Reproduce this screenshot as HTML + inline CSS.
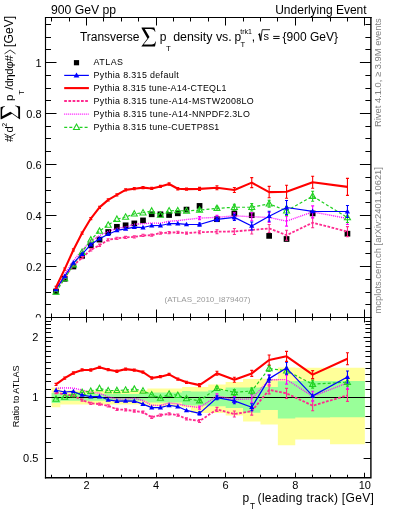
<!DOCTYPE html><html><head><meta charset="utf-8"><style>html,body{margin:0;padding:0;background:#fff;width:393px;height:512px;overflow:hidden}svg{display:block;will-change:transform;font-family:"Liberation Sans",sans-serif}</style></head><body>
<svg width="393" height="512" viewBox="0 0 393 512" font-family="Liberation Sans, sans-serif">
<rect width="393" height="512" fill="#fff"/>
<text x="50.9" y="14.3" font-size="12" textLength="65.2" lengthAdjust="spacingAndGlyphs">900 GeV pp</text>
<text x="366.6" y="14.3" font-size="12" text-anchor="end">Underlying Event</text>
<text x="41.6" y="271.00" font-size="11" text-anchor="end">0.2</text>
<text x="41.6" y="220.00" font-size="11" text-anchor="end">0.4</text>
<text x="41.6" y="169.00" font-size="11" text-anchor="end">0.6</text>
<text x="41.6" y="118.00" font-size="11" text-anchor="end">0.8</text>
<text x="41.6" y="67.00" font-size="11" text-anchor="end">1</text>
<text x="41.4" y="322.10" font-size="11" text-anchor="end">0</text>
<defs><clipPath id="cu"><rect x="45.5" y="17.5" width="325.4" height="300.0"/></clipPath><clipPath id="cr"><rect x="45.5" y="317.5" width="325.4" height="160.25"/></clipPath></defs>
<text x="164.5" y="301.7" font-size="8" fill="#999" textLength="86" lengthAdjust="spacingAndGlyphs">(ATLAS_2010_I879407)</text>
<g clip-path="url(#cu)">
<rect x="53.15" y="288.65" width="5.7" height="5.7" fill="#000"/>
<rect x="61.85" y="275.95" width="5.7" height="5.7" fill="#000"/>
<rect x="70.55" y="263.65" width="5.7" height="5.7" fill="#000"/>
<rect x="79.25" y="253.05" width="5.7" height="5.7" fill="#000"/>
<rect x="87.95" y="242.45" width="5.7" height="5.7" fill="#000"/>
<rect x="96.65" y="236.75" width="5.7" height="5.7" fill="#000"/>
<rect x="105.35" y="229.15" width="5.7" height="5.7" fill="#000"/>
<rect x="114.05" y="223.95" width="5.7" height="5.7" fill="#000"/>
<rect x="122.75" y="222.45" width="5.7" height="5.7" fill="#000"/>
<rect x="131.45" y="220.55" width="5.7" height="5.7" fill="#000"/>
<rect x="140.15" y="217.55" width="5.7" height="5.7" fill="#000"/>
<rect x="148.85" y="211.45" width="5.7" height="5.7" fill="#000"/>
<rect x="157.55" y="211.45" width="5.7" height="5.7" fill="#000"/>
<rect x="166.25" y="212.15" width="5.7" height="5.7" fill="#000"/>
<rect x="174.95" y="210.45" width="5.7" height="5.7" fill="#000"/>
<rect x="183.65" y="206.75" width="5.7" height="5.7" fill="#000"/>
<rect x="196.70" y="203.05" width="5.7" height="5.7" fill="#000"/>
<rect x="214.10" y="216.35" width="5.7" height="5.7" fill="#000"/>
<rect x="231.50" y="210.65" width="5.7" height="5.7" fill="#000"/>
<rect x="248.90" y="212.35" width="5.7" height="5.7" fill="#000"/>
<rect x="266.30" y="233.05" width="5.7" height="5.7" fill="#000"/>
<rect x="283.70" y="236.15" width="5.7" height="5.7" fill="#000"/>
<rect x="309.80" y="210.55" width="5.7" height="5.7" fill="#000"/>
<rect x="344.60" y="230.85" width="5.7" height="5.7" fill="#000"/>
<polyline points="56.00,289.96 64.70,277.44 73.40,265.38 82.10,257.65 90.80,249.95 99.50,245.24 108.20,239.78 116.90,238.32 125.60,237.43 134.30,236.89 143.00,235.41 151.70,235.21 160.40,233.06 169.10,232.62 177.80,232.31 186.50,233.12 199.55,232.26 216.95,231.71 234.35,231.45 251.75,229.97 269.15,228.44 286.55,235.21 312.65,222.70 347.45,231.61" fill="none" stroke="#ff2a90" stroke-width="1.8" stroke-dasharray="2.7,1.5" stroke-linejoin="round"/>
<path d="M56.00,288.86V291.06M54.50,288.86h3M54.50,291.06h3" stroke="#ff2a90" stroke-width="1.1" fill="none"/>
<path d="M64.70,276.34V278.54M63.20,276.34h3M63.20,278.54h3" stroke="#ff2a90" stroke-width="1.1" fill="none"/>
<path d="M73.40,264.28V266.48M71.90,264.28h3M71.90,266.48h3" stroke="#ff2a90" stroke-width="1.1" fill="none"/>
<path d="M82.10,256.55V258.75M80.60,256.55h3M80.60,258.75h3" stroke="#ff2a90" stroke-width="1.1" fill="none"/>
<path d="M90.80,248.85V251.05M89.30,248.85h3M89.30,251.05h3" stroke="#ff2a90" stroke-width="1.1" fill="none"/>
<path d="M99.50,244.14V246.34M98.00,244.14h3M98.00,246.34h3" stroke="#ff2a90" stroke-width="1.1" fill="none"/>
<path d="M108.20,238.68V240.88M106.70,238.68h3M106.70,240.88h3" stroke="#ff2a90" stroke-width="1.1" fill="none"/>
<path d="M116.90,237.22V239.42M115.40,237.22h3M115.40,239.42h3" stroke="#ff2a90" stroke-width="1.1" fill="none"/>
<path d="M125.60,236.33V238.53M124.10,236.33h3M124.10,238.53h3" stroke="#ff2a90" stroke-width="1.1" fill="none"/>
<path d="M134.30,235.79V237.99M132.80,235.79h3M132.80,237.99h3" stroke="#ff2a90" stroke-width="1.1" fill="none"/>
<path d="M143.00,234.31V236.51M141.50,234.31h3M141.50,236.51h3" stroke="#ff2a90" stroke-width="1.1" fill="none"/>
<path d="M151.70,234.11V236.31M150.20,234.11h3M150.20,236.31h3" stroke="#ff2a90" stroke-width="1.1" fill="none"/>
<path d="M160.40,231.96V234.16M158.90,231.96h3M158.90,234.16h3" stroke="#ff2a90" stroke-width="1.1" fill="none"/>
<path d="M169.10,231.52V233.72M167.60,231.52h3M167.60,233.72h3" stroke="#ff2a90" stroke-width="1.1" fill="none"/>
<path d="M177.80,231.21V233.41M176.30,231.21h3M176.30,233.41h3" stroke="#ff2a90" stroke-width="1.1" fill="none"/>
<path d="M186.50,232.02V234.22M185.00,232.02h3M185.00,234.22h3" stroke="#ff2a90" stroke-width="1.1" fill="none"/>
<path d="M199.55,230.76V233.76M198.05,230.76h3M198.05,233.76h3" stroke="#ff2a90" stroke-width="1.1" fill="none"/>
<path d="M216.95,229.71V233.71M215.45,229.71h3M215.45,233.71h3" stroke="#ff2a90" stroke-width="1.1" fill="none"/>
<path d="M234.35,228.45V234.45M232.85,228.45h3M232.85,234.45h3" stroke="#ff2a90" stroke-width="1.1" fill="none"/>
<path d="M251.75,225.97V233.97M250.25,225.97h3M250.25,233.97h3" stroke="#ff2a90" stroke-width="1.1" fill="none"/>
<path d="M269.15,224.44V232.44M267.65,224.44h3M267.65,232.44h3" stroke="#ff2a90" stroke-width="1.1" fill="none"/>
<path d="M286.55,230.21V240.21M285.05,230.21h3M285.05,240.21h3" stroke="#ff2a90" stroke-width="1.1" fill="none"/>
<path d="M312.65,217.70V227.70M311.15,217.70h3M311.15,227.70h3" stroke="#ff2a90" stroke-width="1.1" fill="none"/>
<path d="M347.45,226.61V236.61M345.95,226.61h3M345.95,236.61h3" stroke="#ff2a90" stroke-width="1.1" fill="none"/>
<polyline points="56.00,288.59 64.70,274.27 73.40,260.72 82.10,250.39 90.80,241.02 99.50,235.59 108.20,231.45 116.90,228.36 125.60,226.98 134.30,224.22 143.00,223.69 151.70,223.07 160.40,223.23 169.10,221.23 177.80,220.67 186.50,219.54 199.55,218.09 216.95,217.36 234.35,215.86 251.75,216.70 269.15,217.49 286.55,221.12 312.65,211.91 347.45,218.45" fill="none" stroke="#ff00ff" stroke-width="1.4" stroke-dasharray="1,1" stroke-linejoin="round"/>
<path d="M199.55,216.59V219.59M198.05,216.59h3M198.05,219.59h3" stroke="#ff00ff" stroke-width="1.1" fill="none"/>
<path d="M216.95,215.36V219.36M215.45,215.36h3M215.45,219.36h3" stroke="#ff00ff" stroke-width="1.1" fill="none"/>
<path d="M234.35,212.86V218.86M232.85,212.86h3M232.85,218.86h3" stroke="#ff00ff" stroke-width="1.1" fill="none"/>
<path d="M251.75,212.70V220.70M250.25,212.70h3M250.25,220.70h3" stroke="#ff00ff" stroke-width="1.1" fill="none"/>
<path d="M269.15,212.49V222.49M267.65,212.49h3M267.65,222.49h3" stroke="#ff00ff" stroke-width="1.1" fill="none"/>
<path d="M286.55,216.12V226.12M285.05,216.12h3M285.05,226.12h3" stroke="#ff00ff" stroke-width="1.1" fill="none"/>
<path d="M312.65,205.91V217.91M311.15,205.91h3M311.15,217.91h3" stroke="#ff00ff" stroke-width="1.1" fill="none"/>
<path d="M347.45,212.45V224.45M345.95,212.45h3M345.95,224.45h3" stroke="#ff00ff" stroke-width="1.1" fill="none"/>
<polyline points="56.00,291.94 64.70,278.59 73.40,264.72 82.10,252.14 90.80,239.83 99.50,231.06 108.20,224.98 116.90,219.15 125.60,217.01 134.30,213.85 143.00,212.75 151.70,210.95 160.40,215.01 169.10,210.77 177.80,210.60 186.50,210.95 199.55,210.07 216.95,208.31 234.35,207.27 251.75,207.23 269.15,203.77 286.55,210.86 312.65,196.20 347.45,217.57" fill="none" stroke="#20d020" stroke-width="1.2" stroke-dasharray="3,2.1" stroke-linejoin="round"/>
<path d="M199.55,208.57V211.57M198.05,208.57h3M198.05,211.57h3" stroke="#20d020" stroke-width="1.1" fill="none"/>
<path d="M216.95,206.31V210.31M215.45,206.31h3M215.45,210.31h3" stroke="#20d020" stroke-width="1.1" fill="none"/>
<path d="M234.35,204.27V210.27M232.85,204.27h3M232.85,210.27h3" stroke="#20d020" stroke-width="1.1" fill="none"/>
<path d="M251.75,203.43V211.03M250.25,203.43h3M250.25,211.03h3" stroke="#20d020" stroke-width="1.1" fill="none"/>
<path d="M269.15,200.27V207.27M267.65,200.27h3M267.65,207.27h3" stroke="#20d020" stroke-width="1.1" fill="none"/>
<path d="M286.55,206.36V215.36M285.05,206.36h3M285.05,215.36h3" stroke="#20d020" stroke-width="1.1" fill="none"/>
<path d="M312.65,191.20V201.20M311.15,191.20h3M311.15,201.20h3" stroke="#20d020" stroke-width="1.1" fill="none"/>
<path d="M347.45,212.57V222.57M345.95,212.57h3M345.95,222.57h3" stroke="#20d020" stroke-width="1.1" fill="none"/>
<path d="M56.00,288.74L59.00,294.14L53.00,294.14Z" fill="none" stroke="#20d020" stroke-width="1.1"/>
<path d="M64.70,275.39L67.70,280.79L61.70,280.79Z" fill="none" stroke="#20d020" stroke-width="1.1"/>
<path d="M73.40,261.52L76.40,266.92L70.40,266.92Z" fill="none" stroke="#20d020" stroke-width="1.1"/>
<path d="M82.10,248.94L85.10,254.34L79.10,254.34Z" fill="none" stroke="#20d020" stroke-width="1.1"/>
<path d="M90.80,236.63L93.80,242.03L87.80,242.03Z" fill="none" stroke="#20d020" stroke-width="1.1"/>
<path d="M99.50,227.86L102.50,233.26L96.50,233.26Z" fill="none" stroke="#20d020" stroke-width="1.1"/>
<path d="M108.20,221.78L111.20,227.18L105.20,227.18Z" fill="none" stroke="#20d020" stroke-width="1.1"/>
<path d="M116.90,215.95L119.90,221.35L113.90,221.35Z" fill="none" stroke="#20d020" stroke-width="1.1"/>
<path d="M125.60,213.81L128.60,219.21L122.60,219.21Z" fill="none" stroke="#20d020" stroke-width="1.1"/>
<path d="M134.30,210.65L137.30,216.05L131.30,216.05Z" fill="none" stroke="#20d020" stroke-width="1.1"/>
<path d="M143.00,209.55L146.00,214.95L140.00,214.95Z" fill="none" stroke="#20d020" stroke-width="1.1"/>
<path d="M151.70,207.75L154.70,213.15L148.70,213.15Z" fill="none" stroke="#20d020" stroke-width="1.1"/>
<path d="M160.40,211.81L163.40,217.21L157.40,217.21Z" fill="none" stroke="#20d020" stroke-width="1.1"/>
<path d="M169.10,207.57L172.10,212.97L166.10,212.97Z" fill="none" stroke="#20d020" stroke-width="1.1"/>
<path d="M177.80,207.40L180.80,212.80L174.80,212.80Z" fill="none" stroke="#20d020" stroke-width="1.1"/>
<path d="M186.50,207.75L189.50,213.15L183.50,213.15Z" fill="none" stroke="#20d020" stroke-width="1.1"/>
<path d="M199.55,206.87L202.55,212.27L196.55,212.27Z" fill="none" stroke="#20d020" stroke-width="1.1"/>
<path d="M216.95,205.11L219.95,210.51L213.95,210.51Z" fill="none" stroke="#20d020" stroke-width="1.1"/>
<path d="M234.35,204.07L237.35,209.47L231.35,209.47Z" fill="none" stroke="#20d020" stroke-width="1.1"/>
<path d="M251.75,204.03L254.75,209.43L248.75,209.43Z" fill="none" stroke="#20d020" stroke-width="1.1"/>
<path d="M269.15,200.57L272.15,205.97L266.15,205.97Z" fill="none" stroke="#20d020" stroke-width="1.1"/>
<path d="M286.55,207.66L289.55,213.06L283.55,213.06Z" fill="none" stroke="#20d020" stroke-width="1.1"/>
<path d="M312.65,193.00L315.65,198.40L309.65,198.40Z" fill="none" stroke="#20d020" stroke-width="1.1"/>
<path d="M347.45,214.37L350.45,219.77L344.45,219.77Z" fill="none" stroke="#20d020" stroke-width="1.1"/>
<polyline points="56.00,289.25 64.70,276.28 73.40,262.84 82.10,254.08 90.80,244.61 99.50,238.72 108.20,234.20 116.90,230.43 125.60,228.85 134.30,227.13 143.00,227.53 151.70,225.54 160.40,225.52 169.10,223.72 177.80,223.54 186.50,224.45 199.55,224.48 216.95,219.42 234.35,217.36 251.75,225.96 269.15,216.20 286.55,207.52 312.65,211.41 347.45,211.50" fill="none" stroke="#0000ff" stroke-width="1.2" stroke-linejoin="round"/>
<path d="M199.55,222.98V225.98M198.05,222.98h3M198.05,225.98h3" stroke="#0000ff" stroke-width="1.1" fill="none"/>
<path d="M216.95,217.42V221.42M215.45,217.42h3M215.45,221.42h3" stroke="#0000ff" stroke-width="1.1" fill="none"/>
<path d="M234.35,214.36V220.36M232.85,214.36h3M232.85,220.36h3" stroke="#0000ff" stroke-width="1.1" fill="none"/>
<path d="M251.75,221.96V229.96M250.25,221.96h3M250.25,229.96h3" stroke="#0000ff" stroke-width="1.1" fill="none"/>
<path d="M269.15,211.20V221.20M267.65,211.20h3M267.65,221.20h3" stroke="#0000ff" stroke-width="1.1" fill="none"/>
<path d="M286.55,200.52V214.52M285.05,200.52h3M285.05,214.52h3" stroke="#0000ff" stroke-width="1.1" fill="none"/>
<path d="M347.45,205.50V217.50M345.95,205.50h3M345.95,217.50h3" stroke="#0000ff" stroke-width="1.1" fill="none"/>
<path d="M56.00,286.45L58.60,291.15L53.40,291.15Z" fill="#0000ff"/>
<path d="M64.70,273.48L67.30,278.18L62.10,278.18Z" fill="#0000ff"/>
<path d="M73.40,260.04L76.00,264.74L70.80,264.74Z" fill="#0000ff"/>
<path d="M82.10,251.28L84.70,255.98L79.50,255.98Z" fill="#0000ff"/>
<path d="M90.80,241.81L93.40,246.51L88.20,246.51Z" fill="#0000ff"/>
<path d="M99.50,235.92L102.10,240.62L96.90,240.62Z" fill="#0000ff"/>
<path d="M108.20,231.40L110.80,236.10L105.60,236.10Z" fill="#0000ff"/>
<path d="M116.90,227.63L119.50,232.33L114.30,232.33Z" fill="#0000ff"/>
<path d="M125.60,226.05L128.20,230.75L123.00,230.75Z" fill="#0000ff"/>
<path d="M134.30,224.33L136.90,229.03L131.70,229.03Z" fill="#0000ff"/>
<path d="M143.00,224.73L145.60,229.43L140.40,229.43Z" fill="#0000ff"/>
<path d="M151.70,222.74L154.30,227.44L149.10,227.44Z" fill="#0000ff"/>
<path d="M160.40,222.72L163.00,227.42L157.80,227.42Z" fill="#0000ff"/>
<path d="M169.10,220.92L171.70,225.62L166.50,225.62Z" fill="#0000ff"/>
<path d="M177.80,220.74L180.40,225.44L175.20,225.44Z" fill="#0000ff"/>
<path d="M186.50,221.65L189.10,226.35L183.90,226.35Z" fill="#0000ff"/>
<path d="M199.55,221.68L202.15,226.38L196.95,226.38Z" fill="#0000ff"/>
<path d="M216.95,216.62L219.55,221.32L214.35,221.32Z" fill="#0000ff"/>
<path d="M234.35,214.56L236.95,219.26L231.75,219.26Z" fill="#0000ff"/>
<path d="M251.75,223.16L254.35,227.86L249.15,227.86Z" fill="#0000ff"/>
<path d="M269.15,213.40L271.75,218.10L266.55,218.10Z" fill="#0000ff"/>
<path d="M286.55,204.72L289.15,209.42L283.95,209.42Z" fill="#0000ff"/>
<path d="M312.65,208.61L315.25,213.31L310.05,213.31Z" fill="#0000ff"/>
<path d="M347.45,208.70L350.05,213.40L344.85,213.40Z" fill="#0000ff"/>
<polyline points="56.00,287.31 64.70,269.15 73.40,249.97 82.10,233.04 90.80,218.54 99.50,207.36 108.20,199.89 116.90,194.93 125.60,189.89 134.30,188.67 143.00,187.64 151.70,188.45 160.40,186.43 169.10,183.99 177.80,188.77 186.50,189.10 199.55,188.85 216.95,187.76 234.35,190.01 251.75,182.65 269.15,192.11 286.55,191.69 312.65,182.25 347.45,186.84" fill="none" stroke="#ff0000" stroke-width="2.1" stroke-linejoin="round"/>
<path d="M56.00,286.21V288.41M54.50,286.21h3M54.50,288.41h3" stroke="#ff0000" stroke-width="1.1" fill="none"/>
<path d="M64.70,268.05V270.25M63.20,268.05h3M63.20,270.25h3" stroke="#ff0000" stroke-width="1.1" fill="none"/>
<path d="M73.40,248.87V251.07M71.90,248.87h3M71.90,251.07h3" stroke="#ff0000" stroke-width="1.1" fill="none"/>
<path d="M82.10,231.94V234.14M80.60,231.94h3M80.60,234.14h3" stroke="#ff0000" stroke-width="1.1" fill="none"/>
<path d="M90.80,217.44V219.64M89.30,217.44h3M89.30,219.64h3" stroke="#ff0000" stroke-width="1.1" fill="none"/>
<path d="M99.50,206.26V208.46M98.00,206.26h3M98.00,208.46h3" stroke="#ff0000" stroke-width="1.1" fill="none"/>
<path d="M108.20,198.79V200.99M106.70,198.79h3M106.70,200.99h3" stroke="#ff0000" stroke-width="1.1" fill="none"/>
<path d="M116.90,193.83V196.03M115.40,193.83h3M115.40,196.03h3" stroke="#ff0000" stroke-width="1.1" fill="none"/>
<path d="M125.60,188.79V190.99M124.10,188.79h3M124.10,190.99h3" stroke="#ff0000" stroke-width="1.1" fill="none"/>
<path d="M134.30,187.57V189.77M132.80,187.57h3M132.80,189.77h3" stroke="#ff0000" stroke-width="1.1" fill="none"/>
<path d="M143.00,186.54V188.74M141.50,186.54h3M141.50,188.74h3" stroke="#ff0000" stroke-width="1.1" fill="none"/>
<path d="M151.70,187.35V189.55M150.20,187.35h3M150.20,189.55h3" stroke="#ff0000" stroke-width="1.1" fill="none"/>
<path d="M160.40,185.33V187.53M158.90,185.33h3M158.90,187.53h3" stroke="#ff0000" stroke-width="1.1" fill="none"/>
<path d="M169.10,182.89V185.09M167.60,182.89h3M167.60,185.09h3" stroke="#ff0000" stroke-width="1.1" fill="none"/>
<path d="M177.80,187.67V189.87M176.30,187.67h3M176.30,189.87h3" stroke="#ff0000" stroke-width="1.1" fill="none"/>
<path d="M186.50,188.00V190.20M185.00,188.00h3M185.00,190.20h3" stroke="#ff0000" stroke-width="1.1" fill="none"/>
<path d="M199.55,187.35V190.35M198.05,187.35h3M198.05,190.35h3" stroke="#ff0000" stroke-width="1.1" fill="none"/>
<path d="M216.95,185.76V189.76M215.45,185.76h3M215.45,189.76h3" stroke="#ff0000" stroke-width="1.1" fill="none"/>
<path d="M234.35,187.51V192.51M232.85,187.51h3M232.85,192.51h3" stroke="#ff0000" stroke-width="1.1" fill="none"/>
<path d="M251.75,177.65V187.65M250.25,177.65h3M250.25,187.65h3" stroke="#ff0000" stroke-width="1.1" fill="none"/>
<path d="M269.15,186.41V197.81M267.65,186.41h3M267.65,197.81h3" stroke="#ff0000" stroke-width="1.1" fill="none"/>
<path d="M286.55,185.19V198.19M285.05,185.19h3M285.05,198.19h3" stroke="#ff0000" stroke-width="1.1" fill="none"/>
<path d="M312.65,176.25V188.25M311.15,176.25h3M311.15,188.25h3" stroke="#ff0000" stroke-width="1.1" fill="none"/>
<path d="M347.45,178.34V195.34M345.95,178.34h3M345.95,195.34h3" stroke="#ff0000" stroke-width="1.1" fill="none"/>
</g>
<path d="M45.5,317.50h11M370.9,317.50h-11M45.5,304.50h5.5M370.9,304.50h-5.5M45.5,292.50h5.5M370.9,292.50h-5.5M45.5,279.50h5.5M370.9,279.50h-5.5M45.5,266.50h11M370.9,266.50h-11M45.5,253.50h5.5M370.9,253.50h-5.5M45.5,241.50h5.5M370.9,241.50h-5.5M45.5,228.50h5.5M370.9,228.50h-5.5M45.5,215.50h11M370.9,215.50h-11M45.5,202.50h5.5M370.9,202.50h-5.5M45.5,190.50h5.5M370.9,190.50h-5.5M45.5,177.50h5.5M370.9,177.50h-5.5M45.5,164.50h11M370.9,164.50h-11M45.5,151.50h5.5M370.9,151.50h-5.5M45.5,138.50h5.5M370.9,138.50h-5.5M45.5,126.50h5.5M370.9,126.50h-5.5M45.5,113.50h11M370.9,113.50h-11M45.5,100.50h5.5M370.9,100.50h-5.5M45.5,88.50h5.5M370.9,88.50h-5.5M45.5,75.50h5.5M370.9,75.50h-5.5M45.5,62.50h11M370.9,62.50h-11M45.5,49.50h5.5M370.9,49.50h-5.5M45.5,37.50h5.5M370.9,37.50h-5.5M45.5,24.50h5.5M370.9,24.50h-5.5M51.50,317.5v-4M51.50,17.5v4M69.50,317.5v-4M69.50,17.5v4M86.50,317.5v-8M86.50,17.5v8M103.50,317.5v-4M103.50,17.5v4M121.50,317.5v-4M121.50,17.5v4M138.50,317.5v-4M138.50,17.5v4M156.50,317.5v-8M156.50,17.5v8M173.50,317.5v-4M173.50,17.5v4M190.50,317.5v-4M190.50,17.5v4M208.50,317.5v-4M208.50,17.5v4M225.50,317.5v-8M225.50,17.5v8M243.50,317.5v-4M243.50,17.5v4M260.50,317.5v-4M260.50,17.5v4M277.50,317.5v-4M277.50,17.5v4M295.50,317.5v-8M295.50,17.5v8M312.50,317.5v-4M312.50,17.5v4M330.50,317.5v-4M330.50,17.5v4M347.50,317.5v-4M347.50,17.5v4M364.50,317.5v-8M364.50,17.5v8" stroke="#000" stroke-width="1" fill="none"/>
<rect x="73.9" y="60.1" width="5.2" height="5.2" fill="#000"/>
<line x1="64.2" y1="75.4" x2="88.9" y2="75.4" stroke="#0000ff" stroke-width="1.2"/>
<path d="M76.5,72.4L79.4,77.5L73.6,77.5Z" fill="#0000ff"/>
<line x1="64.2" y1="88.1" x2="88.9" y2="88.1" stroke="#ff0000" stroke-width="2.1"/>
<line x1="64.2" y1="101.0" x2="88.9" y2="101.0" stroke="#ff2a90" stroke-width="1.8" stroke-dasharray="2.7,1.5"/>
<line x1="64.2" y1="114.1" x2="88.9" y2="114.1" stroke="#ff00ff" stroke-width="1.4" stroke-dasharray="1,1"/>
<line x1="64.2" y1="127.3" x2="88.9" y2="127.3" stroke="#20d020" stroke-width="1.2" stroke-dasharray="3,2.1"/>
<path d="M76.5,124.1L79.5,129.5L73.5,129.5Z" fill="#fff" stroke="#20d020" stroke-width="1.1"/>
<text x="93.6" y="65.0" font-size="8.9" textLength="29.4" lengthAdjust="spacing">ATLAS</text>
<text x="93.6" y="77.9" font-size="8.9" textLength="85.2" lengthAdjust="spacing">Pythia 8.315 default</text>
<text x="93.6" y="90.9" font-size="8.9" textLength="132.8" lengthAdjust="spacing">Pythia 8.315 tune-A14-CTEQL1</text>
<text x="93.6" y="103.9" font-size="8.9" textLength="160.1" lengthAdjust="spacing">Pythia 8.315 tune-A14-MSTW2008LO</text>
<text x="93.6" y="116.9" font-size="8.9" textLength="156.2" lengthAdjust="spacing">Pythia 8.315 tune-A14-NNPDF2.3LO</text>
<text x="93.6" y="129.8" font-size="8.9" textLength="125.7" lengthAdjust="spacing">Pythia 8.315 tune-CUETP8S1</text>
<text x="79.9" y="40.5" font-size="12">Transverse</text>
<path d="M141.6,27.5 L154.3,27.5 Q155.0,29.5 155.4,31.8 L154.9,31.8 Q154.0,29.0 150.5,29.0 L144.8,29.0 L149.5,37.0 L143.6,44.6 L151.5,44.6 Q154.8,44.6 155.5,41.6 L156.0,41.6 L155.0,46.4 L141.3,46.4 L147.4,38.6 L141.6,28.3 Z" fill="#000"/>
<text x="159.8" y="40.5" font-size="12">p</text>
<text x="166.1" y="50.8" font-size="7.8">T</text>
<text x="173.2" y="40.5" font-size="12.4">density vs.</text>
<text x="234.6" y="40.5" font-size="12">p</text>
<text x="240.3" y="34.2" font-size="7">trk1</text>
<text x="240.5" y="46.5" font-size="7.6">T</text>
<text x="251.8" y="40.5" font-size="12">,</text>
<path d="M258.5,34.8 L259.5,34.2 L260.7,40.6" fill="none" stroke="#000" stroke-width="1.5"/><path d="M260.7,40.6 L262.2,29.7 L270,29.7" fill="none" stroke="#000" stroke-width="0.85"/>
<text x="263.6" y="39.8" font-size="11">s</text>
<rect x="273.2" y="35.9" width="6.4" height="0.95" fill="#000"/><rect x="273.2" y="38.0" width="6.4" height="0.95" fill="#000"/>
<text x="282.6" y="40.5" font-size="12">{900 GeV}</text>
<text transform="translate(380.7,127.0) rotate(-90)" font-size="9.3" fill="#808080" textLength="108.8" lengthAdjust="spacingAndGlyphs">Rivet 4.1.0, ≥ 3.9M events</text>
<text transform="translate(380.7,313.4) rotate(-90)" font-size="9.3" fill="#808080" textLength="146.3" lengthAdjust="spacingAndGlyphs">mcplots.cern.ch [arXiv:2401.10621]</text>
<g transform="translate(13.3,142) rotate(-90)">
<text x="0" y="0" font-size="11.5">#</text>
<path d="M8,-8.8 L5.2,-3.2 L8,2" fill="none" stroke="#000" stroke-width="0.8"/>
<text x="9.4" y="0" font-size="11.5">d</text>
<text x="15.2" y="-6.4" font-size="7">2</text>
<path transform="translate(22.5,-12.7) scale(0.95,1.03) translate(-141.3,-27.5)" d="M141.6,27.5 L154.3,27.5 Q155.0,29.5 155.4,31.8 L154.9,31.8 Q154.0,29.0 150.5,29.0 L144.8,29.0 L149.5,37.0 L143.6,44.6 L151.5,44.6 Q154.8,44.6 155.5,41.6 L156.0,41.6 L155.0,46.4 L141.3,46.4 L147.4,38.6 L141.6,28.3 Z" fill="#000"/>
</g>
<g transform="translate(13.3,142) rotate(-90)">
<text x="41" y="0" font-size="11.5">p</text>
<text x="47.3" y="10.6" font-size="7.5">T</text>
<text x="52.3" y="0" font-size="11.5" textLength="34.6" lengthAdjust="spacing">/dηdφ#</text>
<path d="M88.2,-8.8 L92,-3.2 L88.2,2.2" fill="none" stroke="#000" stroke-width="0.8"/>
<text x="95.0" y="0" font-size="12" textLength="31.2" lengthAdjust="spacing">[GeV]</text>
</g>
<rect x="0" y="317.5" width="393" height="194.5" fill="#fff"/>
<g clip-path="url(#cr)">
<path d="M51.65,387.40 L60.35,387.40 L60.35,390.50 L69.05,390.50 L69.05,390.50 L77.75,390.50 L77.75,390.50 L86.45,390.50 L86.45,390.50 L95.15,390.50 L95.15,390.50 L103.85,390.50 L103.85,390.50 L112.55,390.50 L112.55,390.50 L121.25,390.50 L121.25,390.50 L129.95,390.50 L129.95,390.50 L138.65,390.50 L138.65,390.50 L147.35,390.50 L147.35,388.50 L156.05,388.50 L156.05,388.50 L164.75,388.50 L164.75,388.50 L173.45,388.50 L173.45,388.50 L182.15,388.50 L182.15,387.10 L190.85,387.10 L190.85,387.00 L208.25,387.00 L208.25,384.50 L225.65,384.50 L225.65,382.00 L243.05,382.00 L243.05,378.90 L260.45,378.90 L260.45,378.70 L277.85,378.70 L277.85,367.40 L295.25,367.40 L295.25,367.70 L330.05,367.70 L330.05,367.70 L364.85,367.70 L364.85,444.30 L330.05,444.30 L330.05,439.60 L295.25,439.60 L295.25,445.30 L277.85,445.30 L277.85,424.60 L260.45,424.60 L260.45,421.60 L243.05,421.60 L243.05,415.60 L225.65,415.60 L225.65,413.00 L208.25,413.00 L208.25,413.00 L190.85,413.00 L190.85,407.40 L182.15,407.40 L182.15,406.50 L173.45,406.50 L173.45,406.50 L164.75,406.50 L164.75,406.50 L156.05,406.50 L156.05,406.50 L147.35,406.50 L147.35,404.50 L138.65,404.50 L138.65,404.50 L129.95,404.50 L129.95,404.50 L121.25,404.50 L121.25,404.50 L112.55,404.50 L112.55,404.50 L103.85,404.50 L103.85,404.50 L95.15,404.50 L95.15,404.50 L86.45,404.50 L86.45,404.50 L77.75,404.50 L77.75,404.50 L69.05,404.50 L69.05,404.50 L60.35,404.50 L60.35,407.30 L51.65,407.30 Z" fill="#ffff99"/>
<path d="M51.65,392.90 L60.35,392.90 L60.35,394.00 L69.05,394.00 L69.05,394.00 L77.75,394.00 L77.75,394.00 L86.45,394.00 L86.45,394.00 L95.15,394.00 L95.15,394.00 L103.85,394.00 L103.85,394.00 L112.55,394.00 L112.55,394.00 L121.25,394.00 L121.25,394.00 L129.95,394.00 L129.95,394.00 L138.65,394.00 L138.65,394.00 L147.35,394.00 L147.35,392.50 L156.05,392.50 L156.05,392.50 L164.75,392.50 L164.75,392.50 L173.45,392.50 L173.45,392.50 L182.15,392.50 L182.15,390.90 L190.85,390.90 L190.85,391.50 L208.25,391.50 L208.25,390.30 L225.65,390.30 L225.65,387.50 L243.05,387.50 L243.05,387.50 L260.45,387.50 L260.45,387.00 L277.85,387.00 L277.85,381.20 L295.25,381.20 L295.25,381.00 L330.05,381.00 L330.05,381.00 L364.85,381.00 L364.85,417.30 L330.05,417.30 L330.05,417.60 L295.25,417.60 L295.25,418.60 L277.85,418.60 L277.85,410.00 L260.45,410.00 L260.45,412.70 L243.05,412.70 L243.05,408.00 L225.65,408.00 L225.65,406.20 L208.25,406.20 L208.25,405.50 L190.85,405.50 L190.85,404.90 L182.15,404.90 L182.15,402.50 L173.45,402.50 L173.45,402.50 L164.75,402.50 L164.75,402.50 L156.05,402.50 L156.05,402.50 L147.35,402.50 L147.35,400.80 L138.65,400.80 L138.65,400.80 L129.95,400.80 L129.95,400.80 L121.25,400.80 L121.25,400.80 L112.55,400.80 L112.55,400.80 L103.85,400.80 L103.85,400.80 L95.15,400.80 L95.15,400.80 L86.45,400.80 L86.45,400.80 L77.75,400.80 L77.75,400.80 L69.05,400.80 L69.05,400.80 L60.35,400.80 L60.35,403.10 L51.65,403.10 Z" fill="#99ff99"/>
<line x1="45.5" y1="397.51" x2="370.9" y2="397.51" stroke="#000" stroke-width="1.1"/>
<polyline points="56.00,392.49 64.70,394.51 73.40,395.63 82.10,400.04 90.80,403.32 99.50,404.07 108.20,405.84 116.90,409.37 125.60,409.83 134.30,411.02 143.00,412.18 151.70,417.27 160.40,415.03 169.10,413.97 177.80,415.09 186.50,418.97 199.55,421.04 216.95,409.39 234.35,414.06 251.75,411.13 269.15,389.87 286.55,393.39 312.65,405.69 347.45,395.37" fill="none" stroke="#ff2a90" stroke-width="1.8" stroke-dasharray="2.7,1.5" stroke-linejoin="round"/>
<path d="M56.00,391.39V393.59M54.50,391.39h3M54.50,393.59h3" stroke="#ff2a90" stroke-width="1.1" fill="none"/>
<path d="M64.70,393.41V395.61M63.20,393.41h3M63.20,395.61h3" stroke="#ff2a90" stroke-width="1.1" fill="none"/>
<path d="M73.40,394.53V396.73M71.90,394.53h3M71.90,396.73h3" stroke="#ff2a90" stroke-width="1.1" fill="none"/>
<path d="M82.10,398.94V401.14M80.60,398.94h3M80.60,401.14h3" stroke="#ff2a90" stroke-width="1.1" fill="none"/>
<path d="M90.80,402.22V404.42M89.30,402.22h3M89.30,404.42h3" stroke="#ff2a90" stroke-width="1.1" fill="none"/>
<path d="M99.50,402.97V405.17M98.00,402.97h3M98.00,405.17h3" stroke="#ff2a90" stroke-width="1.1" fill="none"/>
<path d="M108.20,404.74V406.94M106.70,404.74h3M106.70,406.94h3" stroke="#ff2a90" stroke-width="1.1" fill="none"/>
<path d="M116.90,408.27V410.47M115.40,408.27h3M115.40,410.47h3" stroke="#ff2a90" stroke-width="1.1" fill="none"/>
<path d="M125.60,408.73V410.93M124.10,408.73h3M124.10,410.93h3" stroke="#ff2a90" stroke-width="1.1" fill="none"/>
<path d="M134.30,409.92V412.12M132.80,409.92h3M132.80,412.12h3" stroke="#ff2a90" stroke-width="1.1" fill="none"/>
<path d="M143.00,411.08V413.28M141.50,411.08h3M141.50,413.28h3" stroke="#ff2a90" stroke-width="1.1" fill="none"/>
<path d="M151.70,416.17V418.37M150.20,416.17h3M150.20,418.37h3" stroke="#ff2a90" stroke-width="1.1" fill="none"/>
<path d="M160.40,413.93V416.13M158.90,413.93h3M158.90,416.13h3" stroke="#ff2a90" stroke-width="1.1" fill="none"/>
<path d="M169.10,412.87V415.07M167.60,412.87h3M167.60,415.07h3" stroke="#ff2a90" stroke-width="1.1" fill="none"/>
<path d="M177.80,413.99V416.19M176.30,413.99h3M176.30,416.19h3" stroke="#ff2a90" stroke-width="1.1" fill="none"/>
<path d="M186.50,417.87V420.07M185.00,417.87h3M185.00,420.07h3" stroke="#ff2a90" stroke-width="1.1" fill="none"/>
<path d="M199.55,419.54V422.54M198.05,419.54h3M198.05,422.54h3" stroke="#ff2a90" stroke-width="1.1" fill="none"/>
<path d="M216.95,407.39V411.39M215.45,407.39h3M215.45,411.39h3" stroke="#ff2a90" stroke-width="1.1" fill="none"/>
<path d="M234.35,411.06V417.06M232.85,411.06h3M232.85,417.06h3" stroke="#ff2a90" stroke-width="1.1" fill="none"/>
<path d="M251.75,407.13V415.13M250.25,407.13h3M250.25,415.13h3" stroke="#ff2a90" stroke-width="1.1" fill="none"/>
<path d="M269.15,385.87V393.87M267.65,385.87h3M267.65,393.87h3" stroke="#ff2a90" stroke-width="1.1" fill="none"/>
<path d="M286.55,388.39V398.39M285.05,388.39h3M285.05,398.39h3" stroke="#ff2a90" stroke-width="1.1" fill="none"/>
<path d="M312.65,400.69V410.69M311.15,400.69h3M311.15,410.69h3" stroke="#ff2a90" stroke-width="1.1" fill="none"/>
<path d="M347.45,389.37V401.37M345.95,389.37h3M345.95,401.37h3" stroke="#ff2a90" stroke-width="1.1" fill="none"/>
<polyline points="56.00,388.24 64.70,387.86 73.40,388.14 82.10,390.04 90.80,392.49 99.50,393.13 108.20,396.96 116.90,399.03 125.60,399.12 134.30,398.28 143.00,400.53 151.70,405.26 160.40,405.41 169.10,402.98 177.80,403.92 186.50,405.95 199.55,407.61 216.95,395.90 234.35,399.52 251.75,398.80 269.15,379.75 286.55,379.61 312.65,396.27 347.45,382.92" fill="none" stroke="#ff00ff" stroke-width="1.4" stroke-dasharray="1,1" stroke-linejoin="round"/>
<path d="M199.55,406.11V409.11M198.05,406.11h3M198.05,409.11h3" stroke="#ff00ff" stroke-width="1.1" fill="none"/>
<path d="M216.95,393.90V397.90M215.45,393.90h3M215.45,397.90h3" stroke="#ff00ff" stroke-width="1.1" fill="none"/>
<path d="M234.35,396.52V402.52M232.85,396.52h3M232.85,402.52h3" stroke="#ff00ff" stroke-width="1.1" fill="none"/>
<path d="M251.75,394.80V402.80M250.25,394.80h3M250.25,402.80h3" stroke="#ff00ff" stroke-width="1.1" fill="none"/>
<path d="M269.15,374.75V384.75M267.65,374.75h3M267.65,384.75h3" stroke="#ff00ff" stroke-width="1.1" fill="none"/>
<path d="M286.55,375.11V384.11M285.05,375.11h3M285.05,384.11h3" stroke="#ff00ff" stroke-width="1.1" fill="none"/>
<path d="M312.65,391.27V401.27M311.15,391.27h3M311.15,401.27h3" stroke="#ff00ff" stroke-width="1.1" fill="none"/>
<path d="M347.45,376.92V388.92M345.95,376.92h3M345.95,388.92h3" stroke="#ff00ff" stroke-width="1.1" fill="none"/>
<polyline points="56.00,398.99 64.70,397.03 73.40,394.53 82.10,392.34 90.80,391.14 99.50,388.44 108.20,390.62 116.90,390.44 125.60,389.99 134.30,389.08 143.00,390.89 151.70,394.73 160.40,398.12 169.10,393.98 177.80,395.28 186.50,398.62 199.55,400.84 216.95,388.35 234.35,392.44 251.75,390.97 269.15,368.54 286.55,370.77 312.65,384.17 347.45,382.14" fill="none" stroke="#20d020" stroke-width="1.2" stroke-dasharray="3,2.1" stroke-linejoin="round"/>
<path d="M199.55,399.34V402.34M198.05,399.34h3M198.05,402.34h3" stroke="#20d020" stroke-width="1.1" fill="none"/>
<path d="M216.95,386.35V390.35M215.45,386.35h3M215.45,390.35h3" stroke="#20d020" stroke-width="1.1" fill="none"/>
<path d="M234.35,389.44V395.44M232.85,389.44h3M232.85,395.44h3" stroke="#20d020" stroke-width="1.1" fill="none"/>
<path d="M251.75,387.97V393.97M250.25,387.97h3M250.25,393.97h3" stroke="#20d020" stroke-width="1.1" fill="none"/>
<path d="M269.15,365.54V371.54M267.65,365.54h3M267.65,371.54h3" stroke="#20d020" stroke-width="1.1" fill="none"/>
<path d="M286.55,367.27V374.27M285.05,367.27h3M285.05,374.27h3" stroke="#20d020" stroke-width="1.1" fill="none"/>
<path d="M312.65,380.17V388.17M311.15,380.17h3M311.15,388.17h3" stroke="#20d020" stroke-width="1.1" fill="none"/>
<path d="M347.45,378.14V386.14M345.95,378.14h3M345.95,386.14h3" stroke="#20d020" stroke-width="1.1" fill="none"/>
<path d="M56.00,395.79L59.00,401.19L53.00,401.19Z" fill="none" stroke="#20d020" stroke-width="1.1"/>
<path d="M64.70,393.83L67.70,399.23L61.70,399.23Z" fill="none" stroke="#20d020" stroke-width="1.1"/>
<path d="M73.40,391.33L76.40,396.73L70.40,396.73Z" fill="none" stroke="#20d020" stroke-width="1.1"/>
<path d="M82.10,389.14L85.10,394.54L79.10,394.54Z" fill="none" stroke="#20d020" stroke-width="1.1"/>
<path d="M90.80,387.94L93.80,393.34L87.80,393.34Z" fill="none" stroke="#20d020" stroke-width="1.1"/>
<path d="M99.50,385.24L102.50,390.64L96.50,390.64Z" fill="none" stroke="#20d020" stroke-width="1.1"/>
<path d="M108.20,387.42L111.20,392.82L105.20,392.82Z" fill="none" stroke="#20d020" stroke-width="1.1"/>
<path d="M116.90,387.24L119.90,392.64L113.90,392.64Z" fill="none" stroke="#20d020" stroke-width="1.1"/>
<path d="M125.60,386.79L128.60,392.19L122.60,392.19Z" fill="none" stroke="#20d020" stroke-width="1.1"/>
<path d="M134.30,385.88L137.30,391.28L131.30,391.28Z" fill="none" stroke="#20d020" stroke-width="1.1"/>
<path d="M143.00,387.69L146.00,393.09L140.00,393.09Z" fill="none" stroke="#20d020" stroke-width="1.1"/>
<path d="M151.70,391.53L154.70,396.93L148.70,396.93Z" fill="none" stroke="#20d020" stroke-width="1.1"/>
<path d="M160.40,394.92L163.40,400.32L157.40,400.32Z" fill="none" stroke="#20d020" stroke-width="1.1"/>
<path d="M169.10,390.78L172.10,396.18L166.10,396.18Z" fill="none" stroke="#20d020" stroke-width="1.1"/>
<path d="M177.80,392.08L180.80,397.48L174.80,397.48Z" fill="none" stroke="#20d020" stroke-width="1.1"/>
<path d="M186.50,395.42L189.50,400.82L183.50,400.82Z" fill="none" stroke="#20d020" stroke-width="1.1"/>
<path d="M199.55,397.64L202.55,403.04L196.55,403.04Z" fill="none" stroke="#20d020" stroke-width="1.1"/>
<path d="M216.95,385.15L219.95,390.55L213.95,390.55Z" fill="none" stroke="#20d020" stroke-width="1.1"/>
<path d="M234.35,389.24L237.35,394.64L231.35,394.64Z" fill="none" stroke="#20d020" stroke-width="1.1"/>
<path d="M251.75,387.77L254.75,393.17L248.75,393.17Z" fill="none" stroke="#20d020" stroke-width="1.1"/>
<path d="M269.15,365.34L272.15,370.74L266.15,370.74Z" fill="none" stroke="#20d020" stroke-width="1.1"/>
<path d="M286.55,367.57L289.55,372.97L283.55,372.97Z" fill="none" stroke="#20d020" stroke-width="1.1"/>
<path d="M312.65,380.97L315.65,386.37L309.65,386.37Z" fill="none" stroke="#20d020" stroke-width="1.1"/>
<path d="M347.45,378.94L350.45,384.34L344.45,384.34Z" fill="none" stroke="#20d020" stroke-width="1.1"/>
<polyline points="56.00,390.27 64.70,392.01 73.40,391.46 82.10,394.97 90.80,396.68 99.50,396.53 108.20,399.79 116.90,401.07 125.60,400.94 134.30,401.05 143.00,404.17 151.70,407.58 160.40,407.57 169.10,405.28 177.80,406.54 186.50,410.44 199.55,413.41 216.95,397.71 234.35,400.82 251.75,407.21 269.15,378.63 286.55,368.08 312.65,395.86 347.45,377.00" fill="none" stroke="#0000ff" stroke-width="1.2" stroke-linejoin="round"/>
<path d="M199.55,411.91V414.91M198.05,411.91h3M198.05,414.91h3" stroke="#0000ff" stroke-width="1.1" fill="none"/>
<path d="M216.95,395.71V399.71M215.45,395.71h3M215.45,399.71h3" stroke="#0000ff" stroke-width="1.1" fill="none"/>
<path d="M234.35,397.82V403.82M232.85,397.82h3M232.85,403.82h3" stroke="#0000ff" stroke-width="1.1" fill="none"/>
<path d="M251.75,403.71V410.71M250.25,403.71h3M250.25,410.71h3" stroke="#0000ff" stroke-width="1.1" fill="none"/>
<path d="M269.15,375.13V382.13M267.65,375.13h3M267.65,382.13h3" stroke="#0000ff" stroke-width="1.1" fill="none"/>
<path d="M286.55,362.08V374.08M285.05,362.08h3M285.05,374.08h3" stroke="#0000ff" stroke-width="1.1" fill="none"/>
<path d="M347.45,371.00V383.00M345.95,371.00h3M345.95,383.00h3" stroke="#0000ff" stroke-width="1.1" fill="none"/>
<path d="M56.00,387.47L58.60,392.17L53.40,392.17Z" fill="#0000ff"/>
<path d="M64.70,389.21L67.30,393.91L62.10,393.91Z" fill="#0000ff"/>
<path d="M73.40,388.66L76.00,393.36L70.80,393.36Z" fill="#0000ff"/>
<path d="M82.10,392.17L84.70,396.87L79.50,396.87Z" fill="#0000ff"/>
<path d="M90.80,393.88L93.40,398.58L88.20,398.58Z" fill="#0000ff"/>
<path d="M99.50,393.73L102.10,398.43L96.90,398.43Z" fill="#0000ff"/>
<path d="M108.20,396.99L110.80,401.69L105.60,401.69Z" fill="#0000ff"/>
<path d="M116.90,398.27L119.50,402.97L114.30,402.97Z" fill="#0000ff"/>
<path d="M125.60,398.14L128.20,402.84L123.00,402.84Z" fill="#0000ff"/>
<path d="M134.30,398.25L136.90,402.95L131.70,402.95Z" fill="#0000ff"/>
<path d="M143.00,401.37L145.60,406.07L140.40,406.07Z" fill="#0000ff"/>
<path d="M151.70,404.78L154.30,409.48L149.10,409.48Z" fill="#0000ff"/>
<path d="M160.40,404.77L163.00,409.47L157.80,409.47Z" fill="#0000ff"/>
<path d="M169.10,402.48L171.70,407.18L166.50,407.18Z" fill="#0000ff"/>
<path d="M177.80,403.74L180.40,408.44L175.20,408.44Z" fill="#0000ff"/>
<path d="M186.50,407.64L189.10,412.34L183.90,412.34Z" fill="#0000ff"/>
<path d="M199.55,410.61L202.15,415.31L196.95,415.31Z" fill="#0000ff"/>
<path d="M216.95,394.91L219.55,399.61L214.35,399.61Z" fill="#0000ff"/>
<path d="M234.35,398.02L236.95,402.72L231.75,402.72Z" fill="#0000ff"/>
<path d="M251.75,404.41L254.35,409.11L249.15,409.11Z" fill="#0000ff"/>
<path d="M269.15,375.83L271.75,380.53L266.55,380.53Z" fill="#0000ff"/>
<path d="M286.55,365.28L289.15,369.98L283.95,369.98Z" fill="#0000ff"/>
<path d="M312.65,393.06L315.25,397.76L310.05,397.76Z" fill="#0000ff"/>
<path d="M347.45,374.20L350.05,378.90L344.85,378.90Z" fill="#0000ff"/>
<polyline points="56.00,384.46 64.70,378.08 73.40,373.00 82.10,369.96 90.80,369.99 99.50,367.29 108.20,369.68 116.90,371.23 125.60,369.14 134.30,370.09 143.00,372.14 151.70,378.00 160.40,376.65 169.10,374.44 177.80,379.06 186.50,382.33 199.55,385.10 216.95,373.29 234.35,379.74 251.75,373.40 269.15,360.01 286.55,356.34 312.65,374.67 347.45,358.74" fill="none" stroke="#ff0000" stroke-width="2.1" stroke-linejoin="round"/>
<path d="M56.00,383.36V385.56M54.50,383.36h3M54.50,385.56h3" stroke="#ff0000" stroke-width="1.1" fill="none"/>
<path d="M64.70,376.98V379.18M63.20,376.98h3M63.20,379.18h3" stroke="#ff0000" stroke-width="1.1" fill="none"/>
<path d="M73.40,371.90V374.10M71.90,371.90h3M71.90,374.10h3" stroke="#ff0000" stroke-width="1.1" fill="none"/>
<path d="M82.10,368.86V371.06M80.60,368.86h3M80.60,371.06h3" stroke="#ff0000" stroke-width="1.1" fill="none"/>
<path d="M90.80,368.89V371.09M89.30,368.89h3M89.30,371.09h3" stroke="#ff0000" stroke-width="1.1" fill="none"/>
<path d="M99.50,366.19V368.39M98.00,366.19h3M98.00,368.39h3" stroke="#ff0000" stroke-width="1.1" fill="none"/>
<path d="M108.20,368.58V370.78M106.70,368.58h3M106.70,370.78h3" stroke="#ff0000" stroke-width="1.1" fill="none"/>
<path d="M116.90,370.13V372.33M115.40,370.13h3M115.40,372.33h3" stroke="#ff0000" stroke-width="1.1" fill="none"/>
<path d="M125.60,368.04V370.24M124.10,368.04h3M124.10,370.24h3" stroke="#ff0000" stroke-width="1.1" fill="none"/>
<path d="M134.30,368.99V371.19M132.80,368.99h3M132.80,371.19h3" stroke="#ff0000" stroke-width="1.1" fill="none"/>
<path d="M143.00,371.04V373.24M141.50,371.04h3M141.50,373.24h3" stroke="#ff0000" stroke-width="1.1" fill="none"/>
<path d="M151.70,376.90V379.10M150.20,376.90h3M150.20,379.10h3" stroke="#ff0000" stroke-width="1.1" fill="none"/>
<path d="M160.40,375.55V377.75M158.90,375.55h3M158.90,377.75h3" stroke="#ff0000" stroke-width="1.1" fill="none"/>
<path d="M169.10,373.34V375.54M167.60,373.34h3M167.60,375.54h3" stroke="#ff0000" stroke-width="1.1" fill="none"/>
<path d="M177.80,377.96V380.16M176.30,377.96h3M176.30,380.16h3" stroke="#ff0000" stroke-width="1.1" fill="none"/>
<path d="M186.50,381.23V383.43M185.00,381.23h3M185.00,383.43h3" stroke="#ff0000" stroke-width="1.1" fill="none"/>
<path d="M199.55,383.60V386.60M198.05,383.60h3M198.05,386.60h3" stroke="#ff0000" stroke-width="1.1" fill="none"/>
<path d="M216.95,371.29V375.29M215.45,371.29h3M215.45,375.29h3" stroke="#ff0000" stroke-width="1.1" fill="none"/>
<path d="M234.35,377.24V382.24M232.85,377.24h3M232.85,382.24h3" stroke="#ff0000" stroke-width="1.1" fill="none"/>
<path d="M251.75,370.40V376.40M250.25,370.40h3M250.25,376.40h3" stroke="#ff0000" stroke-width="1.1" fill="none"/>
<path d="M269.15,355.01V365.01M267.65,355.01h3M267.65,365.01h3" stroke="#ff0000" stroke-width="1.1" fill="none"/>
<path d="M286.55,351.34V361.34M285.05,351.34h3M285.05,361.34h3" stroke="#ff0000" stroke-width="1.1" fill="none"/>
<path d="M312.65,370.67V378.67M311.15,370.67h3M311.15,378.67h3" stroke="#ff0000" stroke-width="1.1" fill="none"/>
<path d="M347.45,352.74V364.74M345.95,352.74h3M345.95,364.74h3" stroke="#ff0000" stroke-width="1.1" fill="none"/>
</g>
<path d="M45.5,458.50h7.3M370.9,458.50h-7.3M45.5,442.50h5.5M370.9,442.50h-5.5M45.5,428.50h5.5M370.9,428.50h-5.5M45.5,416.50h5.5M370.9,416.50h-5.5M45.5,406.50h5.5M370.9,406.50h-5.5M45.5,397.50h7.3M370.9,397.50h-7.3M45.5,389.50h5.5M370.9,389.50h-5.5M45.5,381.50h5.5M370.9,381.50h-5.5M45.5,374.50h5.5M370.9,374.50h-5.5M45.5,368.50h5.5M370.9,368.50h-5.5M45.5,362.50h5.5M370.9,362.50h-5.5M45.5,356.50h5.5M370.9,356.50h-5.5M45.5,351.50h5.5M370.9,351.50h-5.5M45.5,346.50h5.5M370.9,346.50h-5.5M45.5,341.50h5.5M370.9,341.50h-5.5M45.5,337.50h7.3M370.9,337.50h-7.3M45.5,332.50h5.5M370.9,332.50h-5.5M45.5,328.50h5.5M370.9,328.50h-5.5M45.5,324.50h5.5M370.9,324.50h-5.5M45.5,321.50h5.5M370.9,321.50h-5.5M51.50,477.75v-3M51.50,317.5v3M69.50,477.75v-3M69.50,317.5v3M86.50,477.75v-5M86.50,317.5v5M103.50,477.75v-3M103.50,317.5v3M121.50,477.75v-3M121.50,317.5v3M138.50,477.75v-3M138.50,317.5v3M156.50,477.75v-5M156.50,317.5v5M173.50,477.75v-3M173.50,317.5v3M190.50,477.75v-3M190.50,317.5v3M208.50,477.75v-3M208.50,317.5v3M225.50,477.75v-5M225.50,317.5v5M243.50,477.75v-3M243.50,317.5v3M260.50,477.75v-3M260.50,317.5v3M277.50,477.75v-3M277.50,317.5v3M295.50,477.75v-5M295.50,317.5v5M312.50,477.75v-3M312.50,317.5v3M330.50,477.75v-3M330.50,317.5v3M347.50,477.75v-3M347.50,317.5v3M364.50,477.75v-5M364.50,317.5v5" stroke="#000" stroke-width="1" fill="none"/>
<path d="M45.5,16.9V478.45M44.9,17.5H371.59999999999997M44.9,317.5H371.59999999999997" stroke="#000" stroke-width="1.15" fill="none"/>
<path d="M370.9,16.9V478.45M44.9,477.75H371.59999999999997" stroke="#000" stroke-width="1.4" fill="none"/>
<text x="38.4" y="461.92" font-size="11" text-anchor="end">0.5</text>
<text x="38.4" y="401.41" font-size="11" text-anchor="end">1</text>
<text x="38.4" y="340.91" font-size="11" text-anchor="end">2</text>
<text transform="translate(19.3,427.3) rotate(-90)" font-size="9.3" textLength="62" lengthAdjust="spacingAndGlyphs">Ratio to ATLAS</text>
<text x="86.45" y="488.9" font-size="11" text-anchor="middle">2</text>
<text x="156.05" y="488.9" font-size="11" text-anchor="middle">4</text>
<text x="225.65" y="488.9" font-size="11" text-anchor="middle">6</text>
<text x="295.25" y="488.9" font-size="11" text-anchor="middle">8</text>
<text x="364.85" y="488.9" font-size="11" text-anchor="middle">10</text>
<text x="242.4" y="502" font-size="12">p</text>
<text x="249.9" y="508.6" font-size="8.2">T</text>
<text x="257.6" y="502" font-size="12" textLength="116.2" lengthAdjust="spacing">(leading track) [GeV]</text>
</svg></body></html>
